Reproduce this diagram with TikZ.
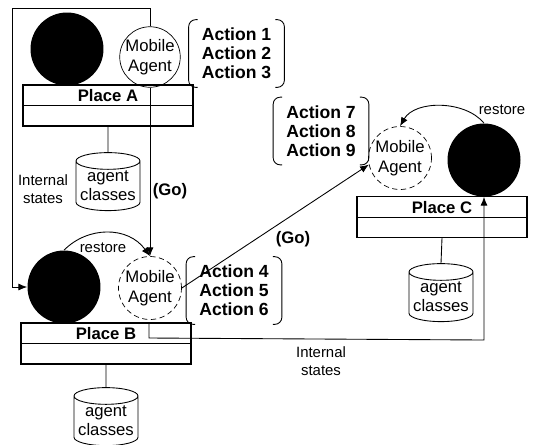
\documentclass[tikz,border=0pt]{standalone}
\usepackage{fontspec}
\setmainfont{Liberation Sans}
\usepackage{tikz}
\usetikzlibrary{arrows.meta,calc,shapes.geometric}

\tikzset{
    blackdisc/.style={circle,fill=black,inner sep=0pt,minimum size=1.46cm},
    agentsolid/.style={circle,draw,line width=0.4pt,inner sep=0pt,minimum size=1.2cm,align=center,font=\fontsize{9.5}{11.3}\selectfont},
    agentdashed/.style={agentsolid,densely dashed,minimum size=1.26cm},
    placebox/.style={rectangle,draw,line width=0.6pt,inner sep=0pt,minimum width=3.4cm,minimum height=0.82cm},
    placelabel/.style={font=\bfseries\fontsize{9.5}{11}\selectfont,inner sep=0pt},
    actionbox/.style={inner sep=0pt,minimum width=1.9cm,minimum height=1.34cm,align=center,font=\bfseries\fontsize{10}{10.8}\selectfont},
    classdb/.style={cylinder,shape border rotate=90,draw,line width=0.5pt,aspect=0.3,inner sep=0pt,minimum width=1.28cm,minimum height=1.16cm,align=center,font=\fontsize{9.5}{11}\selectfont},
    smalltext/.style={align=center,inner sep=0pt,font=\fontsize{8.5}{10.5}\selectfont},
    golabel/.style={inner sep=0pt,font=\bfseries\fontsize{9.5}{11}\selectfont},
    flow/.style={line width=0.5pt,-{Latex[length=5pt,width=4pt]}},
    plainline/.style={line width=0.5pt},
    bracketline/.style={line width=0.5pt,rounded corners=4pt}
}
\newcommand{\actionbrackets}[1]{
    \draw[bracketline] ($(#1.north west)+(9,0)$)--(#1.north west)--(#1.south west)--($(#1.south west)+(9,0)$);
    \draw[bracketline] ($(#1.north east)+(-9,0)$)--(#1.north east)--(#1.south east)--($(#1.south east)+(-9,0)$);
}

\begin{document}
\begin{tikzpicture}[x=0.02cm,y=-0.02cm]
    \useasboundingbox (0,0) rectangle (537,444);
    % place A
    \node[blackdisc] (discA) at (67,49) {};
    \node[agentsolid] (agentA) at (150,57) {Mobile\\Agent};
    \node[placebox] (placeA) at (108,105.5) {};
    \node[placelabel] (nameA) at (108,96) {Place A};
    \draw[plainline] (placeA.west)--(placeA.east);
    \node[actionbox] (actionsA) at (236.5,53.5) {Action 1\\Action 2\\Action 3};
    \actionbrackets{actionsA}
    \node[classdb] (classesA) at (108,186) {agent\\classes};
    \draw[plainline] (placeA.south)--(classesA.north);
    % place B
    \node[blackdisc] (discB) at (64,287) {};
    \node[agentdashed] (agentB) at (150,288) {Mobile\\Agent};
    \node[placebox] (placeB) at (106,343.5) {};
    \node[placelabel] (nameB) at (106,334) {Place B};
    \draw[plainline] (placeB.west)--(placeB.east);
    \node[actionbox] (actionsB) at (234,290.5) {Action 4\\Action 5\\Action 6};
    \actionbrackets{actionsB}
    \node[classdb] (classesB) at (106,421) {agent\\classes};
    \draw[plainline] (placeB.south)--(classesB.north);
    % place C
    \node[blackdisc] (discC) at (484,160) {};
    \node[agentdashed] (agentC) at (400,158) {Mobile\\Agent};
    \node[placebox] (placeC) at (442,217) {};
    \node[placelabel] (nameC) at (442,208) {Place C};
    \draw[plainline] (placeC.west)--(placeC.east);
    \node[actionbox] (actionsC) at (321,131) {Action 7\\Action 8\\Action 9};
    \actionbrackets{actionsC}
    \node[classdb] (classesC) at (441,297) {agent\\classes};
    \draw[plainline] (placeC.south)--(classesC.north);
    % moves between places
    \coordinate (topright) at (150,8);
    \coordinate (topleft) at (12,8);
    \draw[flow] (agentA.north)--(topright)--(topleft)|-(discB.west);
    \draw[flow] (agentA.south)--(agentB.north);
    \draw[flow] (agentB.east)--(agentC.192);
    \draw[flow] (discB.north) .. controls (88,226) and (128,226) .. (agentB.north);
    \draw[flow] (discC.north) .. controls (465,100) and (415,100) .. (agentC.north);
    \coordinate (leaveB) at (149,323);
    \coordinate (turnB) at (149,338);
    \coordinate (turnC) at (484,340);
    \draw[flow] (leaveB)--(turnB)--(turnC)--(discC.south);
    % labels
    \node[smalltext] (statesA) at (43,189) {Internal\\states};
    \node[smalltext] (statesC) at (321,361) {Internal\\states};
    \node[golabel] (goA) at (170,191) {(Go)};
    \node[golabel] (goB) at (293,239) {(Go)};
    \node[smalltext] (restoreB) at (103,248) {restore};
    \node[smalltext] (restoreC) at (502,110) {restore};
\end{tikzpicture}
\end{document}
